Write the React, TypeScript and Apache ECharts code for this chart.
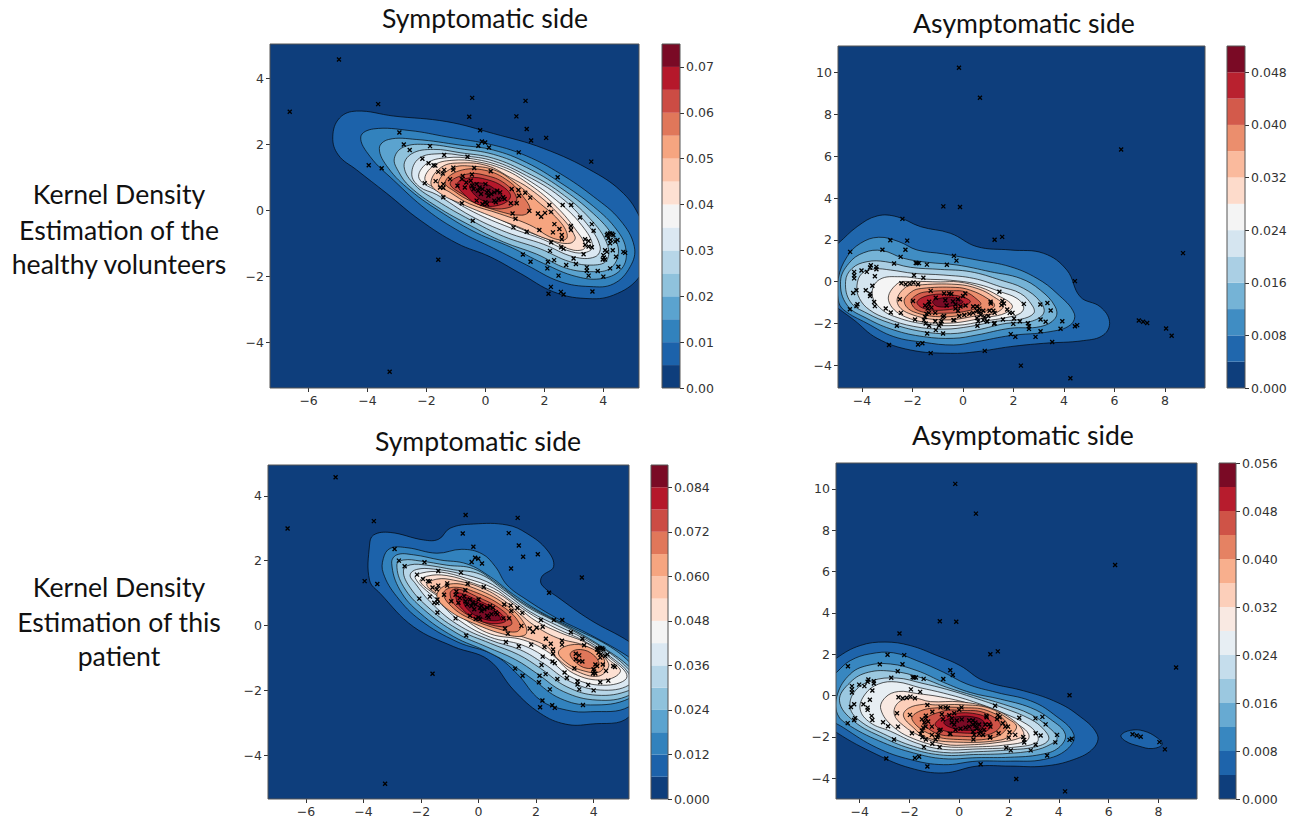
import React, { useEffect, useRef } from "react";
import * as echarts from "echarts";

// ---------- scatter marks: one set per side, shared by both rows ----------
const symptomaticPoints: number[][] = [
  [-6.64,2.99],[-4.97,4.57],[-3.64,3.22],[-3.25,-4.88],[-3.96,1.37],[-3.52,1.28],[-2.92,2.36],[-2.77,2.0],[-2.57,1.83],[-1.88,1.95],
  [-2.14,1.57],[-1.4,1.68],[-0.61,1.63],[-0.45,3.41],[-0.55,2.84],[-0.18,2.43],[-0.12,2.09],[-0.01,2.06],[-0.24,1.96],[0.12,1.91],
  [1.05,2.85],[1.36,3.32],[1.4,2.47],[1.55,2.12],[2.06,2.2],[1.13,1.76],[3.59,1.48],[2.45,1.01],[-1.6,-1.49],
  [-1.93,1.43],[-1.76,1.37],[-1.7,1.36],[-1.09,1.3],[-1.09,1.23],[-0.38,1.29],[-1.4,1.23],[-1.45,1.12],[-1.6,1.17],[-1.69,0.89],[-2.06,0.83],
  [-1.43,0.8],[-1.54,0.7],[-1.43,0.69],[-1.43,0.4],[-0.8,0.22],[-0.43,-0.31],[0.18,1.19],[-0.77,1.05],[-0.46,1.09],[-1.2,0.95],
  [-0.8,0.95],[-0.65,0.85],[-0.5,0.9],[-0.45,0.75],[-0.4,0.65],[-0.3,0.8],[-0.25,0.6],[-0.2,0.7],[-0.15,0.5],[-0.1,0.65],
  [0,0.8],[0.05,0.55],[0.1,0.45],[0.1,0.6],[0.2,0.5],[0.3,0.3],[0.3,0.55],[0.4,0.6],[0.45,0.35],[0.5,0.55],
  [0.6,0.4],[0.65,0.35],[-0.3,0.3],[-0.1,0.2],[0,0.25],[0.05,0.2],[0.35,0.25],[-0.95,0.75],[-0.7,0.7],
  [0.89,0.65],[1.12,0.62],[1.35,0.54],[1.52,0.39],[1.14,0.45],[1.06,0.22],[0.86,0.22],[0.92,-0.09],[1.02,-0.25],[1.49,-0.01],[1.78,-0.09],
  [1.89,-0.19],[2.02,-0.07],[2.23,-0.04],[2.17,0.17],[2.62,0.17],[2.91,0.17],[3.21,-0.21],[3.61,-0.41],[3.67,-0.61],[2.9,-0.47],
  [2.9,-0.59],[2.34,-0.41],[2.51,-0.56],[2.29,-0.66],[1.83,-0.59],[1.4,-0.64],[0.95,-0.51],[2.59,-0.74],[2.59,-0.87],[2.23,-0.96],
  [2.19,-1.22],[2.57,-1.11],[2.65,-1.16],[1.27,-1.33],[1.53,-1.55],[2.12,-1.55],[2.33,-1.5],[2.1,-1.75],[2.74,-1.65],[3.07,-1.62],
  [2.99,-1.45],[3.33,-1.32],[2.48,-1.97],[3.44,-1.72],[3.44,-1.82],[3.5,-1.97],[3.81,-1.83],[4.0,-2.0],[4.23,-1.75],[4.51,-1.7],
  [2.22,-2.31],[2.14,-2.52],[2.56,-2.46],[2.65,-2.54],[3.63,-2.45],[3.38,-0.87],[3.5,-0.92],[3.38,-1.04],[3.5,-1.09],[3.61,-1.11],
  [4.12,-0.74],[4.23,-0.69],[4.34,-0.74],[4.17,-0.84],[4.25,-0.89],[4.4,-0.94],[4.48,-0.89],[4.23,-0.99],[4.06,-1.2],[4.0,-1.35],
  [4.06,-1.48],[4.32,-1.2],[4.43,-1.4],[4.68,-1.25],[4.74,-1.28],[4.12,-1.25],[3.98,-1.48],[4.3,-0.7],[4.15,-0.7],[4.02,-1.42],
];

const asymptomaticPoints: number[][] = [
  [-0.16,10.24],[0.67,8.8],[6.26,6.32],[-0.78,3.6],[-0.12,3.57],[-2.4,3.0],[1.25,2.0],[1.55,2.14],[-2.88,1.98],[-2.21,1.96],
  [-3.19,1.52],[-2.28,1.52],[-4.47,1.42],[-2.47,1.18],[-0.36,1.23],[-0.26,1.0],[8.71,1.36],[-2.73,0.86],[-1.87,0.89],[-1.81,0.88],
  [-1.74,0.88],[-1.43,0.81],[-0.64,0.8],[-3.65,0.78],[-3.68,0.67],[-3.43,0.7],[-3.43,0.59],[-4.02,0.53],[-3.81,0.46],[-4.31,0.46],
  [-4.31,0.3],[-4.31,0.15],[-3.49,0.25],[-1.94,0.3],[-1.57,0.18],[-2.44,-0.08],[-2.27,-0.13],[-2.11,-0.1],[-1.96,-0.05],[-1.78,-0.13],
  [4.43,0.02],[-3.59,-0.2],[-3.85,-0.42],[-4.22,-0.42],[-4.35,-0.55],[-3.68,-0.58],[-3.68,-0.69],[-3.52,-0.98],[-3.49,-1.18],[-4.18,-1.09],
  [-4.22,-1.18],[-4.48,-1.33],[-2.5,-0.85],[-3.06,-1.29],[-2.86,-1.48],[-2.46,-1.5],[-2.62,-2.12],[-1.9,-1.82],[-1.98,-0.93],[-2.93,-3.04],
  [-1.78,-3.02],[-1.61,-2.96],[-1.28,-3.43],[0.86,-3.32],[2.29,-4.03],[4.25,-4.63],[3.53,-2.9],[2.87,-2.65],[2.07,-2.65],[1.89,-2.52],
  [3.07,-2.38],[3.86,-2.26],[3.93,-1.9],[4.43,-2.14],[4.52,-2.09],[6.96,-1.87],[7.13,-1.93],[7.29,-1.99],[8.04,-2.25],[8.26,-2.6],
  [3.34,-1.03],[3.06,-1.1],[3.47,-1.39],[3.27,-1.93],[3.07,-1.82],[2.41,-1.07],[2.25,-1.9],[2.02,-1.77],[1.99,-2.03],[2.57,-2.0],
  [2.61,-2.14],[2.61,-2.27],[1.44,-0.49],[1.56,-0.93],[1.62,-1.05],[1.52,-1.13],[1.75,-1.34],[1.85,-1.5],[1.96,-1.5],[1.09,-0.97],
  [-1.28,-0.45],[-0.75,-0.57],[-0.55,-0.57],[-0.46,-0.6],[0.09,-0.57],[0,-0.69],[-1.08,-0.78],[-1.34,-0.97],[-1.5,-1.15],[-1.35,-1.1],
  [-1.4,-1.3],[-1.25,-1.25],[-1.1,-1.5],[-1.35,-1.5],[-1.45,-1.55],[-1.5,-1.7],[-1.55,-1.85],[-1.1,-1.9],[-0.85,-1.9],[-0.8,-1.7],
  [-0.75,-1.65],[-0.35,-1.85],[-0.65,-1.15],[-0.7,-0.9],[-0.4,-0.95],[-0.3,-1.1],[-0.2,-0.85],[-0.3,-1.3],[-0.2,-1.4],[-0.1,-1.2],
  [0.1,-1.15],[-0.15,-1.65],[0.05,-1.6],[0.25,-1.55],[0.4,-1.5],[0.55,-1.4],[0.65,-1.45],[0.7,-1.6],[0.4,-1.2],[0.55,-1.2],
  [0.65,-1.3],[0.8,-1.4],[0.85,-1.7],[0.8,-1.85],[1.0,-1.65],[1.05,-1.4],[1.2,-1.4],[1.25,-1.5],[1.1,-1.05],[0.95,-1.9],
  [0.55,-1.75],[0.6,-1.9],[1.25,-2.0],[-1.42,-2.49],[-1.08,-2.33],[-0.79,-2.49],[-1.48,-2.01],[-1.34,-2.12],[-0.88,-2.01],[-0.95,-2.12],
  [-0.38,-1.85],[0.57,-2.12],[1.23,-2.03],[0.96,-1.9],[1.58,-1.82],
];

// ---------- contour outlines in data units; each row is [level index, outline] ----------
type Ring = number[][];
const healthySymptomaticContours: [number, Ring][] = [
  [1,[[-5.18,2.23],[-4.95,2.8],[-4.37,3.01],[-3.12,2.86],[-1.31,2.69],[0.27,2.33],[1.97,1.88],[3.67,1.17],[4.68,0.52],[5.23,-0.19],[5.6,-1.1],[5.23,-2.0],[4.34,-2.56],[3.38,-2.66],[2.31,-2.46],[1.18,-1.9],[0.16,-1.4],[-0.97,-0.99],[-2.22,-0.29],[-3.35,0.52],[-4.37,1.23],[-4.99,1.68]]],
  [2,[[-4.23,2.23],[-3.8,2.47],[-2.56,2.42],[-1.31,2.23],[0.27,1.98],[1.4,1.65],[2.53,1.12],[3.67,0.42],[4.57,-0.29],[5.05,-1.09],[4.91,-1.7],[4.34,-2.22],[3.55,-2.3],[2.53,-2.15],[1.4,-1.65],[0.27,-1.14],[-0.86,-0.64],[-1.99,0.02],[-3.12,0.92],[-3.91,1.63]]],
  [3,[[-3.6,1.88],[-3.29,2.15],[-2.33,2.15],[-0.86,1.98],[0.27,1.83],[1.4,1.45],[2.53,0.85],[3.67,0.12],[4.46,-0.59],[4.77,-1.2],[4.63,-1.75],[4.0,-2.05],[3.1,-2.0],[1.97,-1.6],[0.84,-1.1],[-0.29,-0.68],[-1.43,-0.09],[-2.56,0.62],[-3.29,1.28]]],
  [4,[[-3.09,1.58],[-2.78,1.92],[-1.99,2.0],[-0.86,1.87],[0.27,1.7],[1.4,1.3],[2.53,0.7],[3.67,-0.1],[4.34,-0.79],[4.51,-1.3],[4.23,-1.75],[3.67,-1.85],[2.76,-1.75],[1.74,-1.32],[0.61,-0.95],[-0.52,-0.45],[-1.65,0.12],[-2.56,0.72],[-2.95,1.18]]],
  [5,[[-2.76,1.33],[-2.5,1.72],[-1.76,1.85],[-0.86,1.75],[0.27,1.58],[1.4,1.15],[2.53,0.55],[3.55,-0.25],[4.12,-0.99],[4.12,-1.5],[3.67,-1.65],[2.87,-1.55],[1.86,-1.16],[0.61,-0.78],[-0.52,-0.28],[-1.65,0.3],[-2.39,0.77]]],
  [6,[[-2.5,1.1],[-2.25,1.58],[-1.54,1.72],[-0.75,1.66],[0.27,1.5],[1.4,1.05],[2.53,0.42],[3.44,-0.4],[3.89,-1.09],[3.72,-1.4],[2.99,-1.4],[1.97,-1.02],[0.72,-0.66],[-0.52,-0.15],[-1.65,0.48],[-2.24,0.72]]],
  [7,[[-2.25,0.97],[-2.0,1.42],[-1.31,1.6],[-0.41,1.56],[0.61,1.32],[1.4,0.95],[2.42,0.3],[3.27,-0.45],[3.64,-1.09],[3.33,-1.28],[2.76,-1.2],[1.97,-0.88],[0.84,-0.52],[-0.41,-0.04],[-1.54,0.55]]],
  [8,[[-2.05,0.92],[-1.76,1.36],[-1.14,1.52],[-0.29,1.48],[0.61,1.25],[1.4,0.85],[2.31,0.2],[3.04,-0.55],[3.38,-1.11],[2.99,-1.2],[2.31,-0.94],[1.06,-0.5],[-0.29,0.07],[-1.54,0.62]]],
  [9,[[-1.85,0.85],[-1.48,1.32],[-0.86,1.44],[0.05,1.36],[0.84,1.0],[1.52,0.65],[2.42,-0.05],[3.04,-0.79],[2.87,-0.99],[2.19,-0.89],[1.18,-0.52],[0.27,-0.2],[-0.86,0.22],[-1.54,0.52]]],
  [10,[[-1.6,0.82],[-1.14,1.28],[-0.41,1.34],[0.38,1.2],[1.06,0.8],[1.74,0.3],[2.59,-0.4],[2.76,-0.84],[2.3,-0.84],[1.51,-0.44],[0.49,-0.1],[-0.53,0.2],[-1.2,0.55]]],
  [11,[[-1.37,0.85],[-0.9,1.2],[-0.02,1.22],[0.77,0.9],[1.28,0.42],[1.51,0.02],[1.23,-0.14],[0.38,0],[-0.53,0.3],[-1.03,0.57]]],
  [12,[[-1.2,0.82],[-0.64,1.1],[-0.02,1.07],[0.66,0.82],[1.06,0.37],[0.83,0.1],[0.04,0.1],[-0.64,0.42]]],
  [13,[[-0.95,0.82],[-0.53,0.99],[0.04,0.94],[0.6,0.72],[0.85,0.42],[0.49,0.17],[-0.19,0.17],[-0.7,0.47]]],
  [14,[[-0.53,0.77],[-0.07,0.82],[0.43,0.57],[0.6,0.32],[0.04,0.27],[-0.36,0.47]]],
];

const healthyAsymptomaticContours: [number, Ring][] = [
  [1,[[-4.94,1.83],[-4.19,2.63],[-3.4,3.14],[-2.61,3.1],[-1.69,2.63],[-0.5,2.31],[0.55,1.67],[1.87,1.51],[3.19,1.35],[4.11,0.55],[4.64,-0.73],[5.43,-1.21],[5.8,-1.92],[5.56,-2.56],[4.77,-2.83],[3.19,-2.96],[1.87,-3.12],[0.55,-3.36],[-0.5,-3.44],[-2.08,-3.28],[-3.4,-2.72],[-4.32,-1.84],[-4.94,-1.29],[-5.8,-0.5],[-5.8,1.0]]],
  [2,[[-4.94,0.15],[-4.59,1.19],[-4.06,1.83],[-3.34,2.12],[-2.54,1.91],[-1.82,1.51],[-0.76,1.32],[0.55,1.03],[1.87,0.71],[2.93,0.15],[3.72,-0.57],[4.4,-1.52],[4.25,-2.08],[3.45,-2.4],[1.87,-2.59],[0.55,-2.88],[-0.37,-3.04],[-1.56,-2.91],[-2.74,-2.64],[-3.8,-2.0],[-4.72,-1.36],[-4.94,-0.89]]],
  [3,[[-4.85,0],[-4.52,0.87],[-3.93,1.38],[-3.2,1.48],[-2.35,1.11],[-1.42,0.92],[-0.24,0.79],[1.08,0.47],[2.27,0.15],[3.06,-0.41],[3.65,-1.21],[3.65,-1.76],[3.06,-2.16],[1.87,-2.24],[0.55,-2.56],[-0.37,-2.72],[-1.56,-2.64],[-2.74,-2.32],[-3.8,-1.77],[-4.59,-1.13]]],
  [4,[[-4.65,0],[-4.39,0.63],[-3.8,0.95],[-3.07,0.95],[-2.08,0.68],[-0.9,0.58],[0.29,0.47],[1.48,0.07],[2.4,-0.33],[3.06,-0.97],[3.19,-1.52],[2.66,-1.92],[1.74,-2.0],[0.55,-2.32],[-0.5,-2.5],[-1.69,-2.38],[-2.87,-2.0],[-3.8,-1.52],[-4.46,-0.97]]],
  [5,[[-4.2,-0.2],[-4.0,0.39],[-3.5,0.6],[-2.87,0.55],[-1.95,0.39],[-0.76,0.31],[0.42,0.15],[1.48,-0.25],[2.27,-0.57],[2.73,-1.13],[2.8,-1.52],[2.27,-1.81],[1.34,-1.9],[0.29,-2.15],[-0.76,-2.28],[-1.95,-2.15],[-3.0,-1.78],[-3.7,-1.36],[-4.1,-0.81]]],
  [6,[[-3.6,-0.55],[-3.3,0.1],[-2.48,0.23],[-1.56,0.12],[-0.5,0.06],[0.55,-0.12],[1.48,-0.49],[2.14,-0.81],[2.4,-1.21],[2.27,-1.52],[1.74,-1.72],[0.82,-1.9],[-0.24,-2.1],[-1.42,-2.05],[-2.61,-1.72],[-3.3,-1.25]]],
  [7,[[-2.95,-0.9],[-2.6,-0.1],[-2.02,0.0],[-0.9,-0.02],[-0.18,-0.02],[0.7,-0.28],[1.4,-0.68],[1.95,-1.15],[1.7,-1.5],[1.01,-1.7],[-0.77,-2.0],[-2.29,-1.69]]],
  [8,[[-2.61,-0.97],[-2.3,-0.3],[-1.82,-0.17],[-0.24,-0.14],[0.6,-0.35],[1.2,-0.72],[1.6,-1.15],[1.3,-1.5],[0.75,-1.6],[-0.77,-1.84],[-2.16,-1.52]]],
  [9,[[-2.33,-0.97],[-2.05,-0.5],[-1.63,-0.33],[-0.31,-0.28],[0.3,-0.42],[0.95,-0.8],[1.25,-1.15],[0.9,-1.42],[0.48,-1.5],[-0.77,-1.69],[-1.96,-1.45]]],
  [10,[[-2.06,-0.97],[-1.85,-0.65],[-1.43,-0.49],[-0.38,-0.44],[0.1,-0.5],[0.55,-0.85],[0.7,-1.1],[0.28,-1.38],[-0.77,-1.52],[-1.76,-1.4]]],
  [11,[[-1.82,-0.97],[-1.3,-0.65],[-0.38,-0.65],[0.28,-0.92],[0.09,-1.16],[-0.77,-1.37],[-1.56,-1.29]]],
  [12,[[-1.2,-0.95],[-0.8,-0.78],[-0.35,-0.78],[0,-0.98],[-0.4,-1.16],[-1,-1.2]]],
];

const patientSymptomaticContours: [number, Ring][] = [
  [1,[[-3.79,2.48],[-3.65,2.79],[-3.07,2.87],[-1.92,2.64],[-1.39,2.66],[-0.99,3.0],[-0.17,3.13],[0.99,3.1],[1.68,2.84],[2.38,2.33],[2.61,1.82],[2.2,1.51],[2.2,1.25],[2.73,0.89],[3.89,0.17],[5.24,-0.5],[6.2,-1.17],[5.24,-2.81],[3.89,-3.04],[3.02,-3.04],[2.15,-2.71],[1.22,-1.99],[0.35,-1.06],[-0.87,-0.65],[-2.26,-0.04],[-3.42,0.99],[-3.79,1.4]]],
  [2,[[-3.31,2.07],[-3.07,2.38],[-2.49,2.4],[-1.45,2.23],[-0.58,2.35],[0.12,2.21],[0.58,1.82],[0.99,1.25],[1.68,0.79],[2.73,0.22],[3.89,-0.29],[5.24,-0.98],[6.09,-1.58],[5.24,-2.5],[3.89,-2.66],[3.07,-2.61],[2.15,-2.3],[1.33,-1.48],[0.52,-0.9],[-0.75,-0.5],[-2.03,0.17],[-2.84,0.89],[-3.31,1.61]]],
  [3,[[-3.02,1.92],[-2.84,2.18],[-2.26,2.18],[-1.33,2.02],[-0.41,1.9],[0.41,1.5],[1.22,0.95],[2.15,0.42],[3.31,-0.09],[4.47,-0.6],[5.24,-1.12],[5.74,-1.68],[5.24,-2.25],[3.89,-2.45],[2.84,-2.25],[1.91,-1.68],[1.22,-1.25],[0.29,-0.8],[-0.87,-0.34],[-2.03,0.38],[-2.73,1.09]]],
  [4,[[-2.84,1.87],[-2.61,2.02],[-2.03,1.99],[-1.1,1.86],[-0.17,1.75],[0.64,1.3],[1.45,0.75],[2.38,0.28],[3.42,-0.19],[4.47,-0.76],[5.24,-1.27],[5.6,-1.7],[5.24,-2.15],[4.12,-2.3],[2.96,-2.04],[2.03,-1.48],[1.28,-1.05],[0.29,-0.66],[-0.75,-0.24],[-1.91,0.5],[-2.61,1.2]]],
  [5,[[-2.61,1.71],[-2.38,1.87],[-1.8,1.86],[-0.87,1.72],[0.06,1.58],[0.87,1.1],[1.68,0.58],[2.61,0.15],[3.54,-0.29],[4.58,-0.86],[5.24,-1.37],[5.5,-1.7],[5.24,-2.0],[4.12,-2.15],[3.07,-1.89],[2.15,-1.32],[1.39,-0.9],[0.41,-0.55],[-0.75,-0.1],[-1.8,0.6],[-2.44,1.25]]],
  [6,[[-2.38,1.56],[-2.15,1.73],[-1.57,1.74],[-0.64,1.6],[0.29,1.35],[0.99,0.95],[1.8,0.42],[2.73,0],[3.65,-0.4],[4.58,-0.96],[5.22,-1.48],[5.22,-1.84],[4.23,-1.99],[3.19,-1.73],[2.26,-1.17],[1.45,-0.75],[0.41,-0.45],[-0.75,0.04],[-1.68,0.73],[-2.2,1.3]]],
  [7,[[-2.2,1.46],[-1.97,1.62],[-1.33,1.65],[-0.41,1.45],[0.52,1.15],[1.16,0.75],[1.91,0.3],[2.73,-0.1],[3.65,-0.47],[4.58,-1.01],[5.16,-1.58],[4.47,-1.84],[3.31,-1.63],[2.38,-1.01],[1.51,-0.6],[0.41,-0.36],[-0.64,0.14],[-1.51,0.84]]],
  [8,[[-2.03,1.35],[-1.8,1.52],[-1.1,1.54],[-0.17,1.3],[0.7,0.98],[1.33,0.58],[2.03,0.12],[2.84,-0.22],[3.77,-0.55],[4.58,-1.09],[4.93,-1.42],[4.35,-1.68],[3.31,-1.48],[2.49,-0.86],[1.57,-0.45],[0.41,-0.26],[-0.52,0.22],[-1.33,0.84]]],
  [9,[[-1.8,1.25],[-1.45,1.43],[-0.87,1.4],[0.06,1.18],[0.87,0.78],[1.45,0.35],[1.91,0.02],[2.73,-0.38],[3.77,-0.65],[4.52,-1.17],[4.18,-1.56],[3.31,-1.37],[2.73,-1.01],[2.38,-0.65],[1.57,-0.36],[0.52,-0.08],[-0.41,0.33],[-1.22,0.84]]],
  [10,[[-1.45,0.94],[-0.99,1.28],[-0.06,1.12],[1.04,0.58],[1.62,0.02],[1.62,-0.29],[0.99,-0.29],[-0.18,0.07],[-1.05,0.48]]],
  [10,[[2.78,-0.81],[3.19,-0.6],[3.77,-0.65],[4.35,-1.01],[4.23,-1.42],[3.54,-1.37],[3.02,-1.12]]],
  [11,[[-1.22,0.99],[-0.87,1.18],[-0.06,1.01],[0.93,0.53],[1.45,0.02],[1.33,-0.19],[0.75,-0.12],[-0.18,0.17],[-0.87,0.53]]],
  [11,[[3.19,-0.86],[3.54,-0.74],[4.0,-0.91],[4.18,-1.22],[3.77,-1.32],[3.36,-1.12]]],
  [12,[[-0.99,0.99],[-0.76,1.13],[-0.06,0.89],[0.81,0.48],[1.16,0.07],[0.81,-0.04],[0,0.17],[-0.76,0.58]]],
  [13,[[-0.76,0.99],[-0.18,0.84],[0.69,0.43],[0.93,0.12],[0.11,0.12],[-0.64,0.58]]],
  [14,[[-0.52,0.84],[-0.06,0.73],[0.64,0.38],[0.75,0.17],[0.11,0.22],[-0.41,0.53]]],
];

const patientAsymptomaticContours: [number, Ring][] = [
  [1,[[-4.92,1.82],[-3.98,2.42],[-2.98,2.59],[-1.97,2.42],[-0.9,1.94],[0.04,1.45],[0.98,0.72],[2.59,0.23],[3.79,-0.25],[4.73,-0.9],[5.54,-1.87],[5.4,-2.53],[4.6,-3.09],[3.39,-3.41],[2.05,-3.41],[0.71,-3.41],[-0.63,-3.74],[-1.97,-3.5],[-3.31,-2.85],[-4.92,-1.79],[-5.7,-1.0],[-5.7,1.0]]],
  [1,[[6.5,-1.92],[6.88,-1.68],[7.41,-1.71],[7.95,-2.04],[8.15,-2.36],[7.75,-2.56],[7.21,-2.44],[6.68,-2.2]]],
  [2,[[-4.92,1.13],[-4.38,1.69],[-3.58,2.02],[-2.64,2.07],[-1.7,1.69],[-0.63,1.13],[0.31,0.56],[1.51,0.15],[2.86,-0.25],[3.79,-0.9],[4.6,-1.87],[4.33,-2.6],[3.39,-3.09],[2.05,-3.17],[0.71,-3.17],[-0.63,-3.34],[-1.97,-3.09],[-3.31,-2.52],[-4.65,-1.55],[-5.4,-0.9],[-5.6,0.3]]],
  [3,[[-4.89,0.07],[-4.38,1.04],[-3.71,1.45],[-2.77,1.53],[-1.7,1.21],[-0.63,0.64],[0.44,0.15],[1.65,-0.17],[2.86,-0.58],[3.66,-1.14],[4.26,-1.87],[3.99,-2.52],[3.26,-2.85],[2.05,-2.98],[0.71,-3.0],[-0.63,-3.05],[-1.84,-2.77],[-3.04,-2.28],[-4.38,-1.47],[-4.89,-0.9]]],
  [4,[[-4.81,-0.25],[-4.38,0.64],[-3.65,1.13],[-2.64,1.17],[-1.57,0.88],[-0.5,0.4],[0.58,0],[1.78,-0.42],[2.86,-0.9],[3.53,-1.47],[3.93,-2.04],[3.66,-2.36],[2.99,-2.65],[1.92,-2.8],[0.58,-2.85],[-0.63,-2.88],[-1.84,-2.6],[-3.04,-2.04],[-4.24,-1.23]]],
  [5,[[-4.38,-0.58],[-4.18,0.23],[-3.51,0.72],[-2.51,0.85],[-1.5,0.6],[-0.5,0.3],[0.58,-0.1],[1.78,-0.6],[2.86,-1.14],[3.39,-1.63],[3.59,-2.12],[3.12,-2.46],[2.05,-2.62],[0.58,-2.72],[-0.63,-2.75],[-1.84,-2.45],[-3.04,-1.85],[-3.98,-1.23]]],
  [6,[[-3.98,-0.66],[-3.78,0.07],[-3.24,0.56],[-2.51,0.66],[-1.57,0.38],[-0.63,0.12],[0.58,-0.3],[1.78,-0.85],[2.72,-1.39],[3.12,-1.87],[3.12,-2.25],[2.32,-2.48],[0.71,-2.58],[-0.63,-2.6],[-1.7,-2.3],[-2.77,-1.72],[-3.57,-1.31]]],
  [7,[[-3.15,-0.66],[-2.97,-0.09],[-2.44,0.2],[-1.7,0.1],[-0.76,-0.06],[0.44,-0.4],[1.65,-0.95],[2.45,-1.47],[2.79,-1.87],[2.72,-2.17],[1.92,-2.38],[0.58,-2.48],[-0.63,-2.46],[-1.7,-2.15],[-2.64,-1.52]]],
  [8,[[-2.61,-0.9],[-2.44,-0.33],[-1.84,-0.12],[-1.16,-0.29],[0.04,-0.3],[1.26,-0.6],[2.18,-1.2],[2.59,-1.79],[2.45,-2.04],[1.65,-2.25],[0.44,-2.38],[-0.63,-2.35],[-1.57,-1.95],[-2.24,-1.45]]],
  [9,[[-2.24,-0.98],[-2.04,-0.61],[-1.43,-0.42],[-0.96,-0.45],[0.1,-0.44],[1.19,-0.6],[2.0,-1.15],[2.3,-1.47],[2.12,-1.84],[1.66,-2.15],[-0.08,-2.25],[-1.29,-2.04],[-1.84,-1.55]]],
  [10,[[-1.9,-1.14],[-1.57,-0.74],[-0.76,-0.58],[0.1,-0.58],[1.12,-0.72],[1.93,-1.39],[1.46,-2.0],[-0.08,-2.12],[-1.16,-1.87]]],
  [11,[[-1.43,-1.23],[-0.62,-0.74],[0.1,-0.72],[0.99,-0.82],[1.66,-1.39],[1.19,-1.88],[-0.08,-1.96],[-0.96,-1.8]]],
  [12,[[-0.96,-1.34],[-0.35,-0.9],[0.85,-0.93],[1.32,-1.39],[0.99,-1.75],[-0.08,-1.79],[-0.76,-1.63]]],
  [13,[[-0.62,-1.31],[-0.15,-1.03],[0.72,-1.07],[1.05,-1.39],[0.72,-1.63],[-0.08,-1.63]]],
];

// ---------- tick labels ----------
const symptomaticXTicks = [-6, -4, -2, 0, 2, 4];
const symptomaticYTicks = [-4, -2, 0, 2, 4];
const asymptomaticXTicks = [-4, -2, 0, 2, 4, 6, 8];
const asymptomaticYTicks = [-4, -2, 0, 2, 4, 6, 8, 10];
const healthySymptomaticBarTicks = [0, 0.01, 0.02, 0.03, 0.04, 0.05, 0.06, 0.07];
const healthyAsymptomaticBarTicks = [0, 0.008, 0.016, 0.024, 0.032, 0.04, 0.048];
const patientSymptomaticBarTicks = [0, 0.012, 0.024, 0.036, 0.048, 0.06, 0.072, 0.084];
const patientAsymptomaticBarTicks = [0, 0.008, 0.016, 0.024, 0.032, 0.04, 0.048, 0.056];

// colour ramp
const rampColors = ["#0e3e7c","#1c62aa","#3282bd","#5ba3cf","#8fc2dc","#b7d6e8","#dbe8f2","#f4f4f4","#fde0d2","#fcc5ab","#f6a580","#e0775a","#cc4c44","#b5182b","#7a0a25"];

function hexRgb(h: string) {
  return [1, 3, 5].map((i) => parseInt(h.slice(i, i + 2), 16));
}
function bandColor(i: number, count: number) {
  const t = (i / (count - 1)) * (rampColors.length - 1);
  const a = Math.min(Math.floor(t), rampColors.length - 2);
  const f = t - a;
  const c0 = hexRgb(rampColors[a]);
  const c1 = hexRgb(rampColors[a + 1]);
  const c = c0.map((v, k) => Math.round(v + (c1[k] - v) * f));
  return `rgb(${c[0]},${c[1]},${c[2]})`;
}

type Panel = {
  rect: number[]; bar: number[];
  xRange: number[]; yRange: number[];
  xTicks: number[]; yTicks: number[];
  barStep: number; bands: number; barTicks: number[]; barDigits: number;
  contours: [number, Ring][]; points: number[][];
};

const panels: Panel[] = [
  { rect: [270, 44, 369, 344], bar: [662, 44, 18, 344], xRange: [-7.31, 5.21], yRange: [-5.37, 5.04], xTicks: symptomaticXTicks, yTicks: symptomaticYTicks,
    barStep: 0.005, bands: 15, barTicks: healthySymptomaticBarTicks, barDigits: 2, contours: healthySymptomaticContours, points: symptomaticPoints },
  { rect: [838, 46, 367, 342], bar: [1227, 46, 18, 342], xRange: [-4.95, 9.58], yRange: [-5.1, 11.28], xTicks: asymptomaticXTicks, yTicks: asymptomaticYTicks,
    barStep: 0.004, bands: 13, barTicks: healthyAsymptomaticBarTicks, barDigits: 3, contours: healthyAsymptomaticContours, points: asymptomaticPoints },
  { rect: [268, 465, 361, 334], bar: [651, 465, 17, 334], xRange: [-7.32, 5.23], yRange: [-5.35, 4.95], xTicks: symptomaticXTicks, yTicks: symptomaticYTicks,
    barStep: 0.006, bands: 15, barTicks: patientSymptomaticBarTicks, barDigits: 3, contours: patientSymptomaticContours, points: symptomaticPoints },
  { rect: [836, 463, 361, 336], bar: [1219, 463, 17, 336], xRange: [-4.95, 9.55], yRange: [-5.0, 11.25], xTicks: asymptomaticXTicks, yTicks: asymptomaticYTicks,
    barStep: 0.004, bands: 14, barTicks: patientAsymptomaticBarTicks, barDigits: 3, contours: patientAsymptomaticContours, points: asymptomaticPoints },
];

const TICK_FONT = "DejaVu Sans";
const TEXT_FONT = "Lato";
const INK = "#333";
const minus = (v: number) => String(v).replace("-", "\u2212");

function frameSeries(gridIndex: number) {
  return {
    type: "custom", xAxisIndex: gridIndex, yAxisIndex: gridIndex, silent: true, z: 6, data: [[0, 0]],
    renderItem: (params: any) => {
      const c = params.coordSys;
      return { type: "rect", shape: { x: c.x, y: c.y, width: c.width, height: c.height }, style: { fill: "none", stroke: "#555", lineWidth: 1 } };
    },
  };
}

function buildOption() {
  const grid: any[] = [], xAxis: any[] = [], yAxis: any[] = [], series: any[] = [];
  panels.forEach((p, n) => {
    const plot = n * 2, bar = n * 2 + 1;
    grid.push({ left: p.rect[0], top: p.rect[1], width: p.rect[2], height: p.rect[3], show: true, backgroundColor: bandColor(0, p.bands), borderWidth: 0 });
    grid.push({ left: p.bar[0], top: p.bar[1], width: p.bar[2], height: p.bar[3], show: false });
    const tickStyle = { show: true, length: 4, lineStyle: { color: INK, width: 1 } };
    const labelStyle = { fontFamily: TICK_FONT, fontSize: 12.5, color: INK, margin: 6 };
    const hiddenLine = { show: false, onZero: false };
    xAxis.push({ gridIndex: plot, type: "value", position: "bottom", min: p.xRange[0], max: p.xRange[1], splitLine: { show: false }, axisLine: hiddenLine,
      axisTick: { ...tickStyle, customValues: p.xTicks }, axisLabel: { ...labelStyle, customValues: p.xTicks, formatter: minus } });
    yAxis.push({ gridIndex: plot, type: "value", position: "left", min: p.yRange[0], max: p.yRange[1], splitLine: { show: false }, axisLine: hiddenLine,
      axisTick: { ...tickStyle, customValues: p.yTicks }, axisLabel: { ...labelStyle, customValues: p.yTicks, formatter: minus } });
    xAxis.push({ gridIndex: bar, type: "value", min: 0, max: 1, show: false });
    yAxis.push({ gridIndex: bar, type: "value", position: "right", min: 0, max: p.barStep * p.bands, splitLine: { show: false }, axisLine: hiddenLine,
      axisTick: { ...tickStyle, customValues: p.barTicks },
      axisLabel: { ...labelStyle, customValues: p.barTicks, formatter: (v: number) => v.toFixed(p.barDigits) } });

    series.push({
      type: "custom", xAxisIndex: plot, yAxisIndex: plot, clip: true, silent: true, z: 2,
      data: p.contours.map((c) => c[1][0]),
      renderItem: (params: any, api: any) => {
        const [level, ring] = p.contours[params.dataIndex];
        return {
          type: "polygon",
          shape: { points: ring.map((pt) => api.coord(pt)), smooth: 0.4 },
          style: { fill: bandColor(level, p.bands), stroke: "rgba(0,0,0,0.72)", lineWidth: 0.9 },
        };
      },
    });
    series.push({
      type: "scatter", xAxisIndex: plot, yAxisIndex: plot, silent: true, z: 4, data: p.points,
      symbol: "path://M0 0L10 10M10 0L0 10", symbolSize: 4,
      itemStyle: { color: "none", borderColor: "#000", borderWidth: 1.3, opacity: 1 },
    });
    series.push(frameSeries(plot));
    series.push({
      type: "custom", xAxisIndex: bar, yAxisIndex: bar, silent: true, z: 2,
      data: Array.from({ length: p.bands }, (_, i) => [i * p.barStep, (i + 1) * p.barStep]),
      renderItem: (params: any, api: any) => {
        const a = api.coord([0, api.value(1)]);
        const b = api.coord([1, api.value(0)]);
        return { type: "rect", shape: { x: a[0], y: a[1], width: b[0] - a[0], height: b[1] - a[1] }, style: { fill: bandColor(params.dataIndex, p.bands) } };
      },
      encode: { x: 2, y: 0 },
    });
    series.push(frameSeries(bar));
  });

  const text = (s: string, x: number, y: number) => ({
    type: "text", x, y,
    style: { text: s, fontFamily: TEXT_FONT, fontSize: 26.6, fill: "#111", textAlign: "center", textVerticalAlign: "middle" },
  });
  const graphic = [
    text("Symptomatic side", 485, 18), text("Asymptomatic side", 1024, 23),
    text("Symptomatic side", 478, 441), text("Asymptomatic side", 1023, 435),
    text("Kernel Density", 119, 194), text("Estimation of the", 119, 230), text("healthy volunteers", 119, 264),
    text("Kernel Density", 119, 587), text("Estimation of this", 119, 622), text("patient", 119, 656),
  ];
  return { animation: false, backgroundColor: "#fff", grid, xAxis, yAxis, series, graphic };
}

export default function App() {
  const ref = useRef<HTMLDivElement>(null);
  useEffect(() => {
    const chart = echarts.init(ref.current!, undefined, { renderer: "svg" });
    chart.setOption(buildOption() as any);
    return () => chart.dispose();
  }, []);
  return <div ref={ref} style={{ position: "absolute", left: 0, top: 0, width: 1306, height: 822 }} />;
}
